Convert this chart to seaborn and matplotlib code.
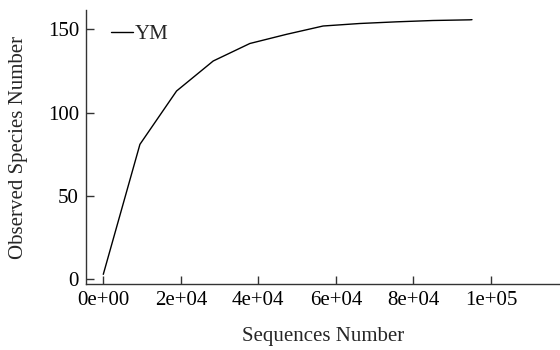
import matplotlib
matplotlib.use("Agg")
import matplotlib.pyplot as plt
import seaborn as sns
import pandas as pd

# Rarefaction curve for sample YM
sequences = [0, 9450, 18900, 28350, 37800, 47250, 56700, 66150, 75600, 85050, 94500, 95100]
observed = [3, 81, 113, 131, 141.5, 147, 152, 153.5, 154.5, 155.3, 155.7, 155.8]
sample = ["YM"] * len(sequences)

x_ticks = [0, 20000, 40000, 60000, 80000, 100000]
x_tick_labels = ["0e+00", "2e+04", "4e+04", "6e+04", "8e+04", "1e+05"]
y_ticks = [0, 50, 100, 150]

df = pd.DataFrame({"Sequences": sequences, "Observed": observed, "Sample": sample})

sns.set_theme(style="ticks")
plt.rcParams["font.family"] = ["Liberation Serif", "DejaVu Serif"]
fs = 15

fig = plt.figure(figsize=(5.6, 3.5), dpi=100)
ax = fig.add_axes([86 / 560, 66 / 350, 474 / 560, 274 / 350])

sns.lineplot(data=df, x="Sequences", y="Observed", hue="Sample",
             palette={"YM": "black"}, linewidth=1.0, ax=ax)

ax.set_xlim(-4460, 117800)
ax.set_ylim(-2.8, 161.6)
ax.set_xticks(x_ticks)
ax.set_xticklabels(x_tick_labels)
ax.set_yticks(y_ticks)
ax.tick_params(direction="in", length=6, width=1, colors="#333333",
               labelcolor="black", labelsize=fs, pad=5)
for side in ("top", "right"):
    ax.spines[side].set_visible(False)
for side in ("left", "bottom"):
    ax.spines[side].set_color("#333333")
    ax.spines[side].set_linewidth(1)

ax.set_xlabel("Sequences Number", fontsize=fs, labelpad=12)
ax.set_ylabel("Observed Species Number", fontsize=fs, labelpad=14)

leg = ax.legend(title=None, loc="upper left", frameon=False, handlelength=1.05,
                handletextpad=0.1, borderaxespad=0.3, fontsize=fs,
                bbox_to_anchor=(0.022, 1.0))

fig.savefig("out.png", dpi=100)
